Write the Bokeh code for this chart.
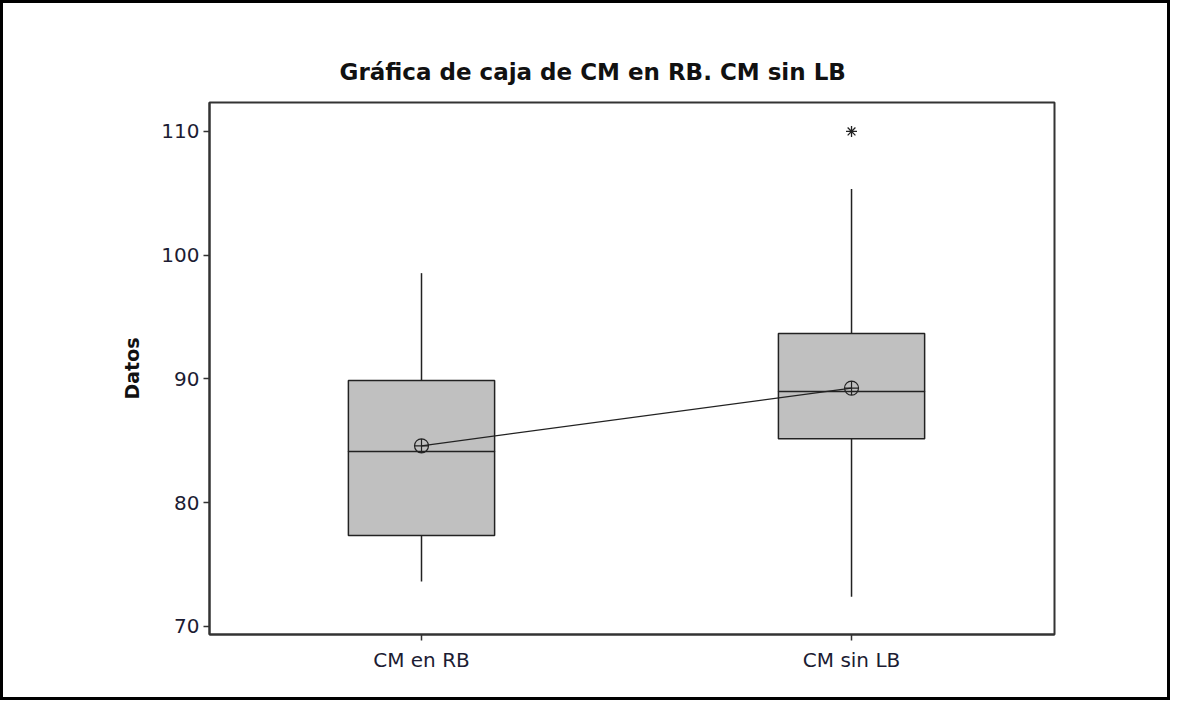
from bokeh.plotting import figure
from bokeh.models import FixedTicker, Range1d, ColumnDataSource
from bokeh.embed import file_html
from bokeh.resources import INLINE

# ---- data ----
categories = ["CM en RB", "CM sin LB"]
q1 = [77.35, 85.16]
median = [84.14, 88.99]
q3 = [89.88, 93.68]
whisker_low = [73.64, 72.4]
whisker_high = [98.55, 105.36]
means = [84.6, 89.26]
outlier_cat = ["CM sin LB"]
outlier_val = [110.0]
y_ticks = [70, 80, 90, 100, 110]

xpos = [i + 1 for i in range(len(categories))]
box_w = 0.34

W, H = 1170, 700
p = figure(width=W, height=H, output_backend="svg", toolbar_location=None,
           x_range=Range1d(0.507, 2.472), y_range=Range1d(69.35, 112.34),
           min_border_left=206, min_border_right=W - 1051,
           min_border_top=99, min_border_bottom=H - 631)
p.styles = {"border": "3px solid black"}

p.title.text = "Gráfica de caja de CM en RB. CM sin LB"
p.title.align = "left"
p.title.offset = 130
p.title.text_font = "DejaVu Sans"
p.title.text_font_size = "23px"
p.title.text_font_style = "bold"
p.title.text_color = "#111111"
p.title.standoff = 36

p.xgrid.visible = False
p.ygrid.visible = False
p.outline_line_color = "#333333"
p.outline_line_width = 2
p.background_fill_color = "white"
p.border_fill_color = "white"

for ax in (p.xaxis[0], p.yaxis[0]):
    ax.axis_line_color = "#333333"
    ax.axis_line_width = 2
    ax.major_tick_line_color = "#333333"
    ax.major_tick_line_width = 1.5
    ax.major_tick_out = 6
    ax.major_tick_in = 0
    ax.minor_tick_line_color = None
    ax.major_label_text_font = "DejaVu Sans"
    ax.major_label_text_font_size = "20px"
    ax.major_label_text_color = "#1c1c33"

p.yaxis.ticker = FixedTicker(ticks=y_ticks)
p.yaxis.major_label_standoff = 4
p.yaxis.axis_label = "Datos"
p.yaxis.axis_label_text_font = "DejaVu Sans"
p.yaxis.axis_label_text_font_size = "19px"
p.yaxis.axis_label_text_font_style = "bold"
p.yaxis.axis_label_text_color = "#111111"
p.yaxis.axis_label_standoff = 15

p.xaxis.ticker = FixedTicker(ticks=xpos)
p.xaxis.major_label_overrides = {x: c for x, c in zip(xpos, categories)}
p.xaxis.major_label_standoff = 7

src = ColumnDataSource(dict(x=xpos, q1=q1, med=median, q3=q3,
                            lo=whisker_low, hi=whisker_high, mean=means))

# whiskers
p.segment(x0="x", y0="q3", x1="x", y1="hi", source=src, line_color="#222222", line_width=1.5)
p.segment(x0="x", y0="lo", x1="x", y1="q1", source=src, line_color="#222222", line_width=1.5)
# boxes
p.vbar(x="x", width=box_w, bottom="q1", top="q3", source=src,
       fill_color="#c0c0c0", line_color="#222222", line_width=1.5)
# medians
p.rect(x="x", y="med", width=box_w, height=0.001, source=src,
       fill_color=None, line_color="#222222", line_width=1.5)
# mean connect line
p.line(x="x", y="mean", source=src, line_color="#222222", line_width=1.2)
p.scatter(x="x", y="mean", source=src, marker="circle_cross", size=14,
          fill_color=None, line_color="#222222", line_width=1.2)
# outlier
ox = [xpos[categories.index(c)] for c in outlier_cat]
p.scatter(x=ox, y=outlier_val, marker="asterisk", size=11,
          line_color="#222222", line_width=1.3)

open("out.html", "w").write(file_html(p, INLINE))
